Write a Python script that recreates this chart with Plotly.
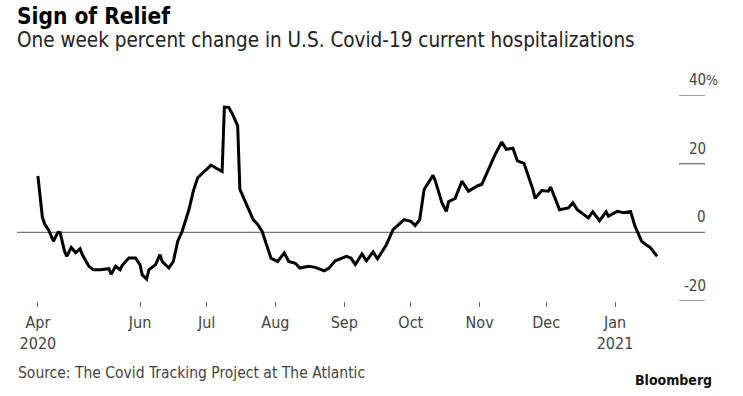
import plotly.graph_objects as go

# ---- data ----
dates = [
    "2020-04-16", "2020-04-17", "2020-04-18", "2020-04-19", "2020-04-20", "2020-04-21",
    "2020-04-23", "2020-04-25", "2020-04-26", "2020-04-28", "2020-04-29", "2020-05-01",
    "2020-05-03", "2020-05-05", "2020-05-06", "2020-05-09", "2020-05-11", "2020-05-14",
    "2020-05-18", "2020-05-19", "2020-05-21", "2020-05-23", "2020-05-24", "2020-05-27",
    "2020-05-30", "2020-06-01", "2020-06-02", "2020-06-04", "2020-06-05", "2020-06-08",
    "2020-06-10", "2020-06-11", "2020-06-14", "2020-06-16", "2020-06-18", "2020-06-20",
    "2020-06-23", "2020-06-25", "2020-06-27", "2020-06-29", "2020-07-01", "2020-07-03",
    "2020-07-05", "2020-07-08", "2020-07-09", "2020-07-11", "2020-07-13", "2020-07-15",
    "2020-07-16", "2020-07-19", "2020-07-22", "2020-07-24", "2020-07-26", "2020-07-28",
    "2020-07-30", "2020-08-02", "2020-08-05", "2020-08-07", "2020-08-10", "2020-08-12",
    "2020-08-16", "2020-08-19", "2020-08-23", "2020-08-25", "2020-08-28", "2020-09-02",
    "2020-09-04", "2020-09-06", "2020-09-09", "2020-09-11", "2020-09-14", "2020-09-16",
    "2020-09-20", "2020-09-23", "2020-09-28", "2020-10-01", "2020-10-03", "2020-10-05",
    "2020-10-07", "2020-10-11", "2020-10-12", "2020-10-15", "2020-10-17", "2020-10-18",
    "2020-10-21", "2020-10-24", "2020-10-27", "2020-10-31", "2020-11-02", "2020-11-04",
    "2020-11-08", "2020-11-11", "2020-11-13", "2020-11-16", "2020-11-18", "2020-11-21",
    "2020-11-25", "2020-11-26", "2020-11-29", "2020-12-02", "2020-12-03", "2020-12-07",
    "2020-12-11", "2020-12-13", "2020-12-15", "2020-12-20", "2020-12-22", "2020-12-25",
    "2020-12-28", "2020-12-29", "2021-01-02", "2021-01-05", "2021-01-08", "2021-01-10",
    "2021-01-13", "2021-01-15", "2021-01-17", "2021-01-20",
]
pct_change = [
    16.4, 9.5, 4.5, 2.5, 1.5, 0.5,
    -2.6, 0.0, -0.1, -5.5, -7.0, -4.4,
    -5.9, -4.8, -6.5, -9.9, -10.9, -10.9,
    -10.6, -12.2, -9.9, -10.9, -9.6, -7.5,
    -7.5, -9.4, -12.4, -13.6, -10.9, -9.4,
    -6.5, -8.5, -10.4, -8.5, -2.6, 0.3,
    6.5, 12.0, 15.9, 17.1, 18.3, 19.6,
    18.8, 17.7, 36.5, 36.4, 34.0, 31.0,
    12.5, 8.1, 3.7, 2.3, 0.3, -3.6,
    -7.5, -8.5, -6.0, -8.5, -9.0, -10.4,
    -9.9, -10.2, -11.2, -10.5, -8.3, -7.0,
    -7.5, -9.4, -6.3, -8.3, -5.7, -7.7,
    -3.6, 0.8, 3.7, 3.2, 2.0, 3.7,
    12.5, 16.6, 15.1, 8.6, 6.1, 8.9,
    9.9, 14.9, 12.0, 13.5, 14.0, 16.9,
    22.7, 26.3, 24.2, 24.5, 20.8, 20.1,
    12.5, 9.9, 12.2, 12.0, 13.2, 6.6,
    7.1, 8.6, 6.6, 4.2, 6.0, 3.4,
    6.0, 4.7, 6.1, 5.7, 6.1, 1.8,
    -2.6, -3.6, -4.5, -7.0,
]

tick_dates = ["2020-04-16", "2020-06-01", "2020-07-01", "2020-08-01", "2020-09-01",
              "2020-10-01", "2020-11-01", "2020-12-01", "2021-01-01"]
tick_text = ["Apr<br>2020", "Jun", "Jul", "Aug", "Sep", "Oct", "Nov", "Dec", "Jan<br>2021"]

y_ticks = [40, 20, 0, -20]
y_tick_text = ["40", "20", "0", "-20"]

title = "Sign of Relief"
subtitle = "One week percent change in U.S. Covid-19 current hospitalizations"
source = "Source: The Covid Tracking Project at The Atlantic"

FONT = "DejaVu Sans Condensed, Liberation Sans Narrow, Arial Narrow, sans-serif"

W, H = 743, 396
L, R, T, B = 17, 38, 95, 95
PW, PH = W - L - R, H - T - B


def px_x(px):  # page pixel -> paper x
    return (px - L) / PW


def px_y(py):  # page pixel -> paper y
    return (H - B - py) / PH


fig = go.Figure()
fig.add_trace(go.Scatter(
    x=dates, y=pct_change, mode="lines",
    line=dict(color="black", width=3),
    hoverinfo="skip", showlegend=False,
))

shapes = [
    dict(type="line", xref="paper", yref="y", x0=0, x1=1, y0=0, y1=0,
         line=dict(color="#777777", width=1.3), layer="below"),
]
for v in y_ticks:
    if v != 0:
        shapes.append(dict(type="line", xref="paper", yref="y",
                           x0=px_x(679), x1=1, y0=v, y1=v,
                           line=dict(color="#888888", width=1.6)))

annotations = []
for v, t in zip(y_ticks, y_tick_text):
    annotations.append(dict(x=1, xref="paper", y=v, yref="y", text=t,
                            xanchor="right", yanchor="middle", xshift=3, yshift=15,
                            showarrow=False,
                            font=dict(family=FONT, size=15, color="#444444")))
annotations.append(dict(x=1, xref="paper", y=40, yref="y", text="%",
                        xanchor="left", yanchor="middle", xshift=-1, yshift=15,
                        showarrow=False,
                        font=dict(family=FONT, size=14, color="#444444")))

annotations += [
    dict(x=px_x(15), y=px_y(16), xref="paper", yref="paper", text="<b>" + title + "</b>",
         xanchor="left", yanchor="middle", showarrow=False,
         font=dict(family=FONT, size=22.5, color="black")),
    dict(x=px_x(15), y=px_y(40), xref="paper", yref="paper", text=subtitle,
         xanchor="left", yanchor="middle", showarrow=False,
         font=dict(family=FONT, size=20.5, color="#222222")),
    dict(x=px_x(16), y=px_y(373), xref="paper", yref="paper", text=source,
         xanchor="left", yanchor="middle", showarrow=False,
         font=dict(family=FONT, size=15.5, color="#444444")),
    dict(x=px_x(714), y=px_y(380), xref="paper", yref="paper", text="<b>Bloomberg</b>",
         xanchor="right", yanchor="middle", showarrow=False,
         font=dict(family=FONT, size=14, color="#111111")),
]

fig.update_layout(
    width=W, height=H,
    margin=dict(l=L, r=R, t=T, b=B, pad=0),
    plot_bgcolor="white", paper_bgcolor="white",
    showlegend=False,
    shapes=shapes,
    annotations=annotations,
    xaxis=dict(
        type="date",
        range=["2020-04-06 14:00", "2021-02-10 13:00"],
        tickmode="array", tickvals=tick_dates, ticktext=tick_text,
        ticks="outside", ticklen=5, tickwidth=1, tickcolor="#666666",
        ticklabelstandoff=2,
        showgrid=False, zeroline=False, showline=False,
        tickfont=dict(family=FONT, size=16, color="#444444"),
        fixedrange=True,
    ),
    yaxis=dict(
        range=[-20, 40],
        showticklabels=False, showgrid=False, zeroline=False, showline=False,
        ticks="", fixedrange=True,
    ),
)

fig.write_html("out.html", config={"displayModeBar": False},
               post_script="document.body.style.margin='0';")
